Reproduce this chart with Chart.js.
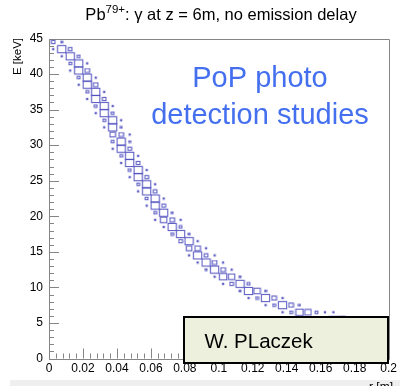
<!DOCTYPE html>
<html>
<head>
<meta charset="utf-8">
<script src="https://cdn.jsdelivr.net/npm/chart.js@4.4.1/dist/chart.umd.min.js"></script>
<style>
  html, body { margin: 0; padding: 0; background: #fff; }
</style>
</head>
<body>
<canvas id="boxChart" width="400" height="386"></canvas>
<script>
// 2D histogram (ROOT "box" style): photon energy E vs. radius r at z = 6 m

const xTickLabels = ['0', '0.02', '0.04', '0.06', '0.08', '0.1', '0.12', '0.14', '0.16', '0.18', '0.2'];
const yTickLabels = ['0', '5', '10', '15', '20', '25', '30', '35', '40', '45'];

const rBinWidth = 0.005; // m
const eBinWidth = 1;     // keV

// bin centres in E (keV), one entry per filled row
const eRows = [44.5, 43.5, 42.5, 41.5, 40.5, 39.5, 38.5, 37.5, 36.5, 35.5,
               34.5, 33.5, 32.5, 31.5, 30.5, 29.5, 28.5, 27.5, 26.5, 25.5,
               24.5, 23.5, 22.5, 21.5, 20.5, 19.5, 18.5, 17.5, 16.5, 15.5,
               14.5, 13.5, 12.5, 11.5, 10.5, 9.5, 8.5, 7.5, 6.5, 5.5, 4.5, 3.5];

// r bin centres (m) of the filled cells in each row
const rowR = [
    [0.0025, 0.0075],
    [0.0025, 0.0075, 0.0125],
    [0.0075, 0.0125, 0.0175],
    [0.0125, 0.0175, 0.0225],
    [0.0125, 0.0175, 0.0225],
    [0.0175, 0.0225, 0.0275],
    [0.0175, 0.0225, 0.0275],
    [0.0225, 0.0275, 0.0325],
    [0.0225, 0.0275, 0.0325],
    [0.0275, 0.0325, 0.0375],
    [0.0275, 0.0325, 0.0375],
    [0.0325, 0.0375, 0.0425],
    [0.0325, 0.0375, 0.0425],
    [0.0375, 0.0425, 0.0475],
    [0.0375, 0.0425, 0.0475],
    [0.0375, 0.0425, 0.0475],
    [0.0425, 0.0475, 0.0525],
    [0.0425, 0.0475, 0.0525],
    [0.0475, 0.0525, 0.0575],
    [0.0475, 0.0525, 0.0575],
    [0.0525, 0.0575, 0.0625],
    [0.0525, 0.0575, 0.0625],
    [0.0575, 0.0625, 0.0675],
    [0.0575, 0.0625, 0.0675],
    [0.0625, 0.0675, 0.0725],
    [0.0625, 0.0675, 0.0725, 0.0775],
    [0.0675, 0.0725, 0.0775],
    [0.0725, 0.0775, 0.0825],
    [0.0775, 0.0825, 0.0875],
    [0.0825, 0.0875, 0.0925],
    [0.0825, 0.0875, 0.0925, 0.0975],
    [0.0875, 0.0925, 0.0975, 0.1025],
    [0.0925, 0.0975, 0.1025, 0.1075],
    [0.0975, 0.1025, 0.1075, 0.1125],
    [0.1025, 0.1075, 0.1125, 0.1175],
    [0.1125, 0.1175, 0.1225, 0.1275],
    [0.1175, 0.1225, 0.1275, 0.1325, 0.1375],
    [0.1275, 0.1325, 0.1375, 0.1425, 0.1475],
    [0.1375, 0.1425, 0.1475, 0.1525, 0.1575, 0.1625, 0.1675],
    [0.1575, 0.1625, 0.1675, 0.1725, 0.1775, 0.1825],
    [0.1775, 0.1825, 0.1875, 0.1925, 0.1975],
    [0.1925, 0.1975]
];

// relative cell contents, same layout as rowR
const rowCounts = [
    [4, 2],
    [1, 9, 4],
    [1, 9, 3],
    [3, 9, 1],
    [1, 9, 5],
    [3, 9, 1],
    [1, 9, 5],
    [3, 9, 1],
    [1, 9, 4],
    [3, 9, 1],
    [1, 9, 3],
    [3, 9, 1],
    [1, 9, 2],
    [6, 5, 1],
    [3, 9, 2],
    [1, 9, 4],
    [3, 9, 1],
    [1, 9, 4],
    [3, 9, 1],
    [1, 9, 4],
    [3, 9, 1],
    [1, 9, 4],
    [3, 9, 1],
    [1, 9, 4],
    [3, 9, 2],
    [1, 7, 5, 1],
    [1, 9, 3],
    [3, 9, 2],
    [4, 9, 1],
    [6, 6, 1],
    [1, 9, 4, 1],
    [1, 9, 5, 1],
    [2, 9, 5, 1],
    [1, 8, 7, 2],
    [1, 4, 9, 3],
    [2, 9, 7, 2],
    [1, 3, 9, 5, 1],
    [1, 3, 9, 5, 2],
    [1, 3, 8, 7, 3, 1, 1],
    [2, 5, 8, 7, 4, 2],
    [1, 3, 6, 6, 4],
    [2, 3]
];

const FONT = '"Liberation Sans", Arial, Helvetica, sans-serif';
const boxColor = 'rgba(82, 82, 192, 0.92)';
const axisColor = '#858585';

const cells = [];
eRows.forEach((e, k) => {
    rowR[k].forEach((r, n) => cells.push({ x: r, y: e, c: rowCounts[k][n] }));
});
const maxCount = Math.max(...cells.map(p => p.c));

// one outlined box image per content value, sized from the bin size in pixels
const boxCache = {};
function boxFor(count, chart) {
    const xs = chart.scales.x, ys = chart.scales.y;
    if (!xs || !ys) return 'rect';
    const binW = xs.getPixelForValue(rBinWidth) - xs.getPixelForValue(0);
    const binH = ys.getPixelForValue(0) - ys.getPixelForValue(eBinWidth);
    if (!(binW > 0) || !(binH > 0)) return 'rect';
    const key = count + '|' + binW.toFixed(2) + '|' + binH.toFixed(2);
    if (boxCache[key]) return boxCache[key];
    const f = count / maxCount;
    const w = Math.max(1.2, binW * f * 0.97);
    const h = Math.max(1.2, binH * f);
    const c = document.createElement('canvas');
    c.width = Math.ceil(w) + 2;
    c.height = Math.ceil(h) + 2;
    const g = c.getContext('2d');
    g.strokeStyle = boxColor;
    g.lineWidth = 1.1;
    g.strokeRect((c.width - w) / 2, (c.height - h) / 2, w, h);
    boxCache[key] = c;
    return c;
}

const rootFrame = {
    id: 'rootFrame',
    beforeDraw(chart) {
        const ctx = chart.ctx;
        ctx.save();
        ctx.fillStyle = '#fff';
        ctx.fillRect(0, 0, chart.width, chart.height);
        ctx.fillStyle = '#efefef';
        ctx.fillRect(10, 380, 390, 6);
        ctx.restore();
    },
    beforeDatasetsDraw(chart) {
        const ctx = chart.ctx;
        const { left, right, top, bottom } = chart.chartArea;
        const xs = chart.scales.x, ys = chart.scales.y;
        ctx.save();
        ctx.strokeStyle = axisColor;
        ctx.lineWidth = 1;
        ctx.beginPath();
        ctx.rect(Math.round(left) + 0.5, Math.round(top) + 0.5, Math.round(right - left), Math.round(bottom - top));
        // ticks drawn inside the frame
        for (let v = 0; v <= 45; v++) {
            const py = Math.round(ys.getPixelForValue(v)) + 0.5;
            ctx.moveTo(left, py);
            ctx.lineTo(left + (v % 5 === 0 ? 10 : 5), py);
        }
        for (let k = 0; k <= 50; k++) {
            const px = Math.round(xs.getPixelForValue(k * 0.004)) + 0.5;
            ctx.moveTo(px, bottom);
            ctx.lineTo(px, bottom - (k % 5 === 0 ? 10 : 5));
        }
        ctx.stroke();
        ctx.restore();
    },
    afterDraw(chart) {
        const ctx = chart.ctx;
        ctx.save();

        // title with superscript charge state
        const big = '16.5px ' + FONT, sup = '11.5px ' + FONT;
        const parts = [['Pb', big, 0], ['79+', sup, -6.5], [': \u03b3 at z = 6m, no emission delay', big, 0]];
        let total = 0;
        parts.forEach(p => { ctx.font = p[1]; total += ctx.measureText(p[0]).width; });
        let tx = 221 - total / 2;
        ctx.fillStyle = '#000';
        ctx.textBaseline = 'alphabetic';
        ctx.textAlign = 'left';
        parts.forEach(p => {
            ctx.font = p[1];
            ctx.fillText(p[0], tx, 19.5 + p[2]);
            tx += ctx.measureText(p[0]).width;
        });

        // axis titles
        ctx.font = '11.5px ' + FONT;
        ctx.save();
        ctx.translate(20.5, 38);
        ctx.rotate(-Math.PI / 2);
        ctx.textAlign = 'right';
        ctx.fillText('E [keV]', 0, 0);
        ctx.restore();
        ctx.font = '12px ' + FONT;
        ctx.textAlign = 'right';
        ctx.fillText('r [m]', 393, 391);

        // overlay label
        ctx.fillStyle = '#4470f0';
        ctx.font = '29px ' + FONT;
        ctx.textAlign = 'center';
        ctx.fillText('PoP photo', 260, 87);
        ctx.fillText('detection studies', 260, 124);

        // author box
        ctx.fillStyle = '#edf0dc';
        ctx.fillRect(184, 317, 204, 46);
        ctx.strokeStyle = '#000';
        ctx.lineWidth = 2;
        ctx.strokeRect(184, 317, 204, 46);
        ctx.fillStyle = '#000';
        ctx.font = '20.5px ' + FONT;
        ctx.textAlign = 'left';
        ctx.fillText('W. PLaczek', 204.5, 348);

        ctx.restore();
    }
};

new Chart(document.getElementById('boxChart'), {
    type: 'scatter',
    data: {
        datasets: [{
            data: cells,
            pointStyle: ctx => boxFor(ctx.raw.c, ctx.chart),
            pointRadius: 4,
            pointBorderWidth: 0,
            pointBackgroundColor: 'transparent'
        }]
    },
    options: {
        responsive: false,
        animation: false,
        events: [],
        layout: { padding: { top: 38.5, right: 8, bottom: 0, left: 0 } },
        plugins: {
            legend: { display: false },
            tooltip: { enabled: false }
        },
        scales: {
            x: {
                type: 'linear',
                min: 0,
                max: 0.2,
                grid: { display: false, drawTicks: false },
                border: { display: false },
                ticks: {
                    stepSize: 0.02,
                    autoSkip: false,
                    maxRotation: 0,
                    padding: 3,
                    color: '#000',
                    font: { family: FONT, size: 12 },
                    callback: (v, i) => xTickLabels[i]
                },
                afterFit: s => { s.height = 27.5; }
            },
            y: {
                type: 'linear',
                min: 0,
                max: 45,
                grid: { display: false, drawTicks: false },
                border: { display: false },
                ticks: {
                    stepSize: 5,
                    padding: 6,
                    color: '#000',
                    font: { family: FONT, size: 12 },
                    callback: (v, i) => yTickLabels[i]
                },
                afterFit: s => { s.width = 49; }
            }
        }
    },
    plugins: [rootFrame]
});
</script>
</body>
</html>
